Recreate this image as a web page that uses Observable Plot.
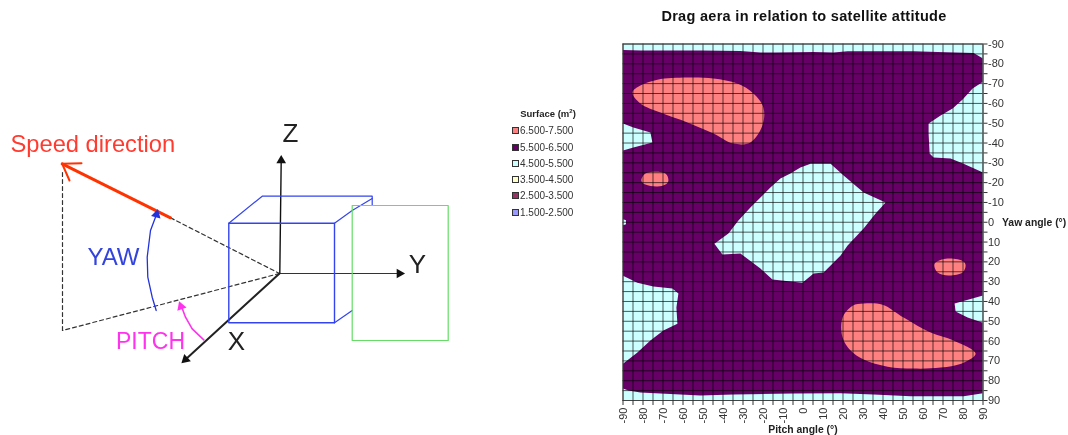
<!DOCTYPE html>
<html>
<head>
<meta charset="utf-8">
<script src="https://cdn.jsdelivr.net/npm/d3@7"></script>
<script src="https://cdn.jsdelivr.net/npm/@observablehq/plot@0.6"></script>
<style>
html,body{margin:0;padding:0;background:#fff;overflow:hidden}
#root{position:relative;width:1068px;height:435px;font-family:"Liberation Sans",sans-serif;filter:blur(0.45px)}
#diagram,#chart{position:absolute;top:0}
#diagram{left:0}
#chart{left:490px}
#title{position:absolute;left:604px;width:400px;top:8px;text-align:center;font-weight:bold;font-size:14.5px;letter-spacing:0.3px;color:#111}
#legendTitle{position:absolute;left:498px;width:100px;top:108px;text-align:center;font-weight:bold;font-size:9.5px;color:#222}
.li{position:absolute;left:512px;font-size:10px;line-height:12px;color:#333;white-space:nowrap}
.li i{display:inline-block;width:5px;height:5px;border:1px solid #333;margin-right:1px;vertical-align:0}
sup{font-size:6px;line-height:0}
</style>
</head>
<body>
<div id="root">
  <div id="diagram"></div>
  <div id="chart"></div>
  <div id="title"></div>
  <div id="legendTitle"></div>
</div>
<script>
// ---------- Contour chart data: [pitch, yaw] in degrees ----------
const chartTitle = "Drag aera in relation to satellite attitude";
const legendTitle = "Surface (m<sup>2</sup>)";
const legendLabels = ["6.500-7.500","5.500-6.500","4.500-5.500","3.500-4.500","2.500-3.500","1.500-2.500"];
const legendColors = ["#ff8080","#660066","#ccffff","#ffffcc","#993366","#9999ff"];
const legendTops = [125,142,158,174,190,207];
const bandLow = "#ccffff", bandMid = "#660066", bandHigh = "#ff8080";

const band55 = [[-90,-87],[-81,-86.7],[-51,-86.7],[-31.3,-86.5],[-21.3,-85.7],[-13.8,-85.7],[5.3,-85.9],[15.3,-85.7],[22.3,-86.4],[55.3,-86.4],[67.3,-85.9],[85.3,-85.4],[90,-82.7],[90,-71],[84.8,-67.5],[79.8,-62],[74.8,-57.4],[68.8,-53.9],[62.8,-49.8],[62.8,-44.8],[63.3,-34.7],[65.3,-32.7],[73.8,-32.2],[80.3,-29.6],[90,-25.1],[90,37],[75.8,41],[76.3,45.1],[82.3,48.1],[90,50.7],[90,86.4],[80.3,87.9],[53.8,87.9],[35.3,87],[18.8,86.4],[-4.8,86.5],[-34.8,87],[-51.3,87.5],[-81.3,86],[-87.3,85],[-90,84],[-90,71.4],[-82.8,65.8],[-76.3,59.7],[-69.8,54.7],[-62.8,51.2],[-63.3,43.1],[-62.3,36],[-65.3,33.5],[-74.8,32.5],[-82.8,30.5],[-90,27],[-90,-36.2],[-84.8,-37.7],[-75.3,-40.3],[-76.3,-45.3],[-84.8,-47.8],[-90,-49.8]];
const band45Centre = [[-11.3,-22.1],[-6.3,-24.6],[-1.3,-27.6],[3.8,-29.6],[13.8,-29.6],[20.3,-23.6],[30.3,-15],[41.3,-10],[36.3,-4.4],[30.3,3.2],[22.3,11.8],[18.8,16.8],[10.3,25.4],[5.3,25.9],[-0.3,30.5],[-15.3,28.9],[-21.3,23.4],[-31.3,15.8],[-40.3,16.3],[-44.3,10.8],[-37.3,5.7],[-32.3,-0.9],[-26.3,-7.4],[-16.3,-17.5]];
const band45Speck = [[-90,-1.5],[-88.5,-1],[-88.5,1],[-90,1.5]];
const band65A = [[-85.3,-65.5],[-81.3,-69],[-72.8,-72],[-57.8,-73.1],[-44.8,-72.6],[-32.8,-70],[-24.8,-65],[-19.8,-58],[-20.3,-48.8],[-26.3,-40.3],[-34.8,-39.7],[-44.8,-44.8],[-57.8,-50.4],[-71.3,-55.4],[-81.3,-60]];
const band65B = [[-80.8,-21],[-78.8,-24.6],[-68.8,-24.6],[-67.3,-21],[-68.8,-19],[-72.8,-18],[-78.8,-19]];
const band65C = [[65.8,20.9],[72.3,18.3],[80.3,19.8],[81.3,21.9],[79.8,25.4],[72.8,26.9],[67.3,25.4]];
const band65D = [[24.8,42.1],[30.3,41],[39.8,41.6],[50.3,48.1],[63.8,55.7],[75.3,59.7],[86.3,66.3],[80.3,70.9],[68.8,73.4],[55.3,73.9],[42.3,72.9],[30.3,69.3],[23.8,64.8],[19.8,58.2],[19.8,48.1]];
const gridAngles = d3.range(-90, 91, 5);

// ---------- Diagram data: sketch units ----------
const solidLines = [
  {pts:[[279.3,273],[280.7,160]], c:"#111", w:1.4},
  {pts:[[279,273],[398,273]], c:"#333", w:1},
  {pts:[[279,273],[185,359]], c:"#222", w:2},
  {pts:[[61.7,163.3],[170,217.3]], c:"#ff3300", w:3},
  {pts:[[61.7,163.3],[81,162.7]], c:"#ff3300", w:2},
  {pts:[[61.7,163.3],[69,180]], c:"#ff3300", w:2},
  {pts:[[228.3,222.7],[334,222.7],[334,322.3],[228.3,322.3],[228.3,222.7]], c:"#3344ee", w:1.4},
  {pts:[[228.3,222.7],[261.7,195.7],[371.7,195.7],[371.7,205]], c:"#3344ee", w:1.2},
  {pts:[[334,222.7],[351.7,210],[371.7,198]], c:"#3344ee", w:1.2},
  {pts:[[334,322.3],[351.7,310]], c:"#3344ee", w:1.2},
  {pts:[[351.7,205],[447.7,205],[447.7,340],[351.7,340],[351.7,205]], c:"#66dd66", w:1.2},
  {pts:[[155.7,310],[151.7,296.7],[147.3,276.7],[146.7,256.7],[150,230],[156,214]], c:"#2233dd", w:1.3},
  {pts:[[203.3,339.3],[191.7,328.3],[185,316.7],[181,306]], c:"#ff33ee", w:1.6}
];
const dashedLines = [
  [[170,217.3],[279,273]],
  [[279,273],[62,330]],
  [[62,330],[62,170]]
];
const heads = [
  {x:280.7,y:160,a:0,c:"#111"},
  {x:399,y:273,a:90,c:"#111"},
  {x:185,y:359,a:227,c:"#111"},
  {x:156,y:214,a:15,c:"#2233dd"},
  {x:180.5,y:306,a:-20,c:"#ff33ee"}
];
const sketchLabels = [
  {t:"Speed direction", x:10, y:144, c:"#ff3b30", s:23.7, a:"start"},
  {t:"Z", x:290, y:133, c:"#222", s:26, a:"middle"},
  {t:"Y", x:417, y:264, c:"#222", s:26, a:"middle"},
  {t:"X", x:236, y:341, c:"#222", s:26, a:"middle"},
  {t:"YAW", x:113, y:257, c:"#3344dd", s:24, a:"middle"},
  {t:"PITCH", x:150, y:341, c:"#ff33ee", s:23, a:"middle"}
];

// ---------- Diagram ----------
const toRows = pts => pts.map(([x,y]) => ({x,y}));
document.getElementById("diagram").append(Plot.plot({
  width:490, height:435, margin:0,
  style:{background:"transparent", fontFamily:"Liberation Sans"},
  x:{axis:null, domain:[0,490]},
  y:{axis:null, domain:[0,435], reverse:true},
  marks:[
    ...dashedLines.map(l => Plot.line(toRows(l), {x:"x", y:"y", stroke:"#333", strokeWidth:1.2, strokeDasharray:"4,3"})),
    ...solidLines.map(l => Plot.line(toRows(l.pts), {x:"x", y:"y", stroke:l.c, strokeWidth:l.w})),
    Plot.dot(heads, {x:"x", y:"y", symbol:"triangle", r:3.6, rotate:"a", fill:d=>d.c, stroke:"none"}),
    ...sketchLabels.map(l => Plot.text([l], {x:"x", y:"y", text:"t", fill:l.c, fontSize:l.s, textAnchor:l.a}))
  ]
}));

// ---------- Contour chart ----------
const area = (pts, fill, curve) => Plot.line(pts, {x:d=>d[0], y:d=>d[1], fill, stroke:"none", curve, clip:"frame"});
document.getElementById("chart").append(Plot.plot({
  width:578, height:435,
  marginLeft:132.5, marginRight:85.5, marginTop:43.5, marginBottom:35,
  style:{background:"transparent", fontFamily:"Liberation Sans", fontSize:"11px"},
  x:{domain:[-90,90]},
  y:{domain:[-90,90], reverse:true},
  marks:[
    Plot.frame({fill:bandLow, stroke:"none"}),
    area(band55, bandMid, "linear"),
    area(band45Centre, bandLow, "linear"),
    area(band45Speck, bandLow, "linear"),
    area(band65A, bandHigh, "catmull-rom-closed"),
    area(band65B, bandHigh, "catmull-rom-closed"),
    area(band65C, bandHigh, "catmull-rom-closed"),
    area(band65D, bandHigh, "catmull-rom-closed"),
    Plot.ruleX(gridAngles, {stroke:"#000", strokeOpacity:0.65, strokeWidth:1}),
    Plot.ruleY(gridAngles, {stroke:"#000", strokeOpacity:0.65, strokeWidth:1}),
    Plot.frame({stroke:"#444"}),
    Plot.axisX({ticks:gridAngles, anchor:"bottom", label:null, tickSize:5, tickPadding:2, tickRotate:-90, color:"#333",
      tickFormat:d => d%10===0 ? String(d) : ""}),
    Plot.axisY({ticks:gridAngles, anchor:"right", label:null, tickSize:4, tickPadding:1, color:"#333",
      tickFormat:d => d%10===0 ? String(d) : ""}),
    Plot.text(["Yaw angle (°)"], {x:90, y:0, text:d=>d, dx:19, textAnchor:"start", fontWeight:"bold", fontSize:10.4, fill:"#222"}),
    Plot.text(["Pitch angle (°)"], {x:0, y:90, text:d=>d, dy:29, fontWeight:"bold", fontSize:10.4, fill:"#222"})
  ]
}));

// ---------- Title & legend ----------
const root = document.getElementById("root");
document.getElementById("title").textContent = chartTitle;
document.getElementById("legendTitle").innerHTML = legendTitle;
legendLabels.forEach((label,i) => {
  const el = document.createElement("div");
  el.className = "li";
  el.style.top = legendTops[i] + "px";
  const sw = document.createElement("i");
  sw.style.background = legendColors[i];
  el.append(sw, label);
  root.append(el);
});
</script>
</body>
</html>
